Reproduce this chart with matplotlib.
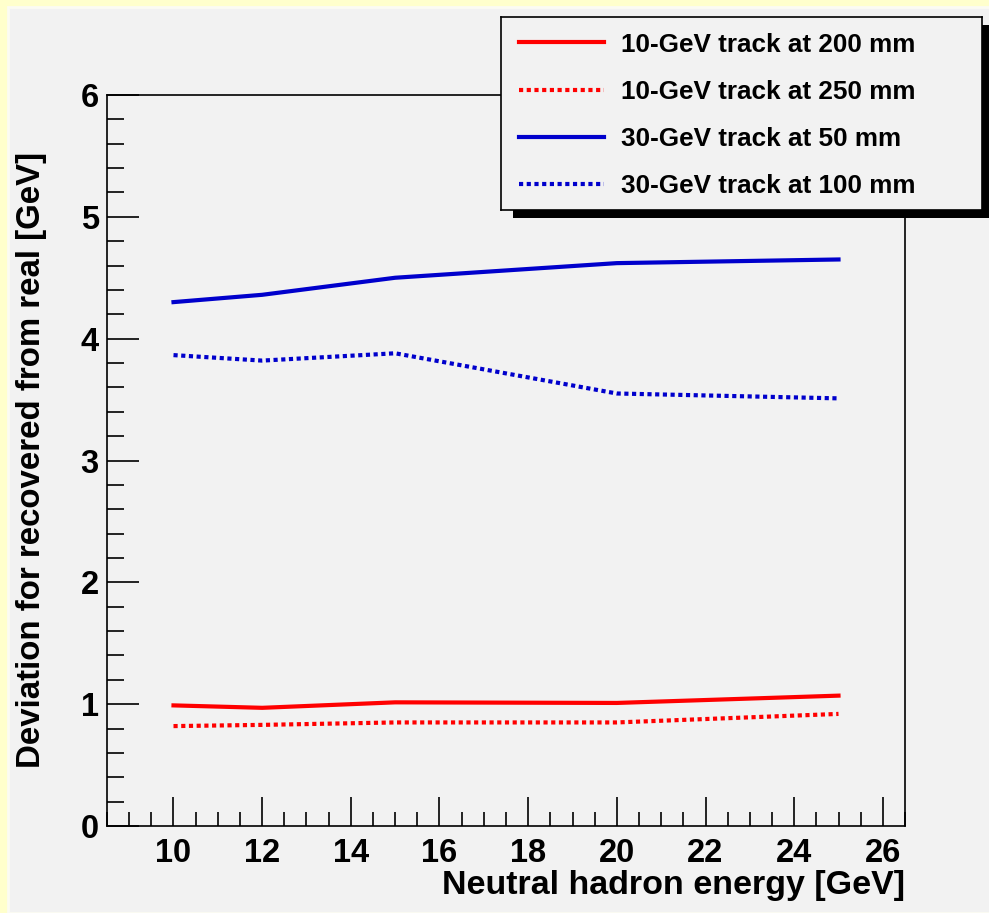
import matplotlib
matplotlib.use("Agg")
import matplotlib.pyplot as plt
from matplotlib.patches import Rectangle
from matplotlib.ticker import MultipleLocator

# Data
energy = [10, 12, 15, 20, 25]
trk10_200 = [0.99, 0.97, 1.015, 1.01, 1.07]
trk10_250 = [0.82, 0.83, 0.85, 0.85, 0.92]
trk30_50 = [4.30, 4.36, 4.50, 4.62, 4.65]
trk30_100 = [3.865, 3.82, 3.88, 3.55, 3.51]

labels = ["10-GeV track at 200 mm", "10-GeV track at 250 mm",
          "30-GeV track at 50 mm", "30-GeV track at 100 mm"]

plt.rcParams['font.family'] = ['Liberation Sans', 'DejaVu Sans']
plt.rcParams['font.weight'] = 'bold'

W, H = 989, 913
fig = plt.figure(figsize=(W / 100, H / 100), dpi=100)
fig.patch.set_facecolor('#ffffcc')

# gray pad with thin light bevel
fig.add_artist(Rectangle((8 / W, 0), 1, 1 - 7 / H, transform=fig.transFigure,
                         facecolor='#f2f2f2', edgecolor='#fbfbf3', lw=2, zorder=0))

ax = fig.add_axes([107 / W, 1 - 826 / H, (905 - 107) / W, (826 - 95) / H])
ax.set_facecolor('#f2f2f2')

red = '#ff0000'
blue = '#0000cc'
dot = (0, (1, 0.85))
l1, = ax.plot(energy, trk10_200, color=red, lw=3)
l2, = ax.plot(energy, trk10_250, color=red, lw=3, ls=dot)
l3, = ax.plot(energy, trk30_50, color=blue, lw=3)
l4, = ax.plot(energy, trk30_100, color=blue, lw=3, ls=dot)

ax.set_xlim(8.5, 26.5)
ax.set_ylim(0, 6)
ax.xaxis.set_major_locator(MultipleLocator(2))
ax.xaxis.set_minor_locator(MultipleLocator(0.5))
ax.yaxis.set_major_locator(MultipleLocator(1))
ax.yaxis.set_minor_locator(MultipleLocator(0.2))
ax.tick_params(which='both', direction='in', top=False, right=False,
               labelsize=23.5, width=1.2)
ax.tick_params(axis='x', which='major', length=21, pad=9)
ax.tick_params(axis='x', which='minor', length=10)
ax.tick_params(axis='y', which='major', length=23, pad=6)
ax.tick_params(axis='y', which='minor', length=12)
for s in ax.spines.values():
    s.set_linewidth(1.2)
for t in ax.get_xticklabels() + ax.get_yticklabels():
    t.set_fontweight('bold')

fig.text(905 / W, 1 - 885 / H, "Neutral hadron energy [GeV]", ha='right',
         va='center', fontsize=24.5, fontweight='bold')
fig.text(32 / W, 1 - 460 / H, "Deviation for recovered from real [GeV]",
         rotation=90, ha='center', va='center', fontsize=23.8, fontweight='bold')

# legend box with ROOT-like shadow
lx0, lx1, ly0, ly1 = 501, 982, 17, 210
fig.add_artist(Rectangle(((lx0 + 12) / W, 1 - (ly1 + 8) / H), (lx1 - lx0) / W,
                         (ly1 - ly0) / H, transform=fig.transFigure,
                         facecolor='black', edgecolor='none', zorder=5))
lax = fig.add_axes([lx0 / W, 1 - ly1 / H, (lx1 - lx0) / W, (ly1 - ly0) / H],
                   zorder=6)
lax.set_facecolor('#f2f2f2')
lax.set_xticks([])
lax.set_yticks([])
for s in lax.spines.values():
    s.set_linewidth(1.2)
lax.legend([l1, l2, l3, l4], labels, loc='center left',
           bbox_to_anchor=(0.0, 0.49), borderaxespad=0, borderpad=0,
           frameon=False, prop={'size': 18.8, 'weight': 'bold'},
           handlelength=3.27, handletextpad=0.62, labelspacing=0.89)
# nudge legend handles to start ~18 px into the box
lax.get_legend().set_bbox_to_anchor((18 / (lx1 - lx0), 0.49))

fig.savefig("out.png", dpi=100, facecolor=fig.get_facecolor())
